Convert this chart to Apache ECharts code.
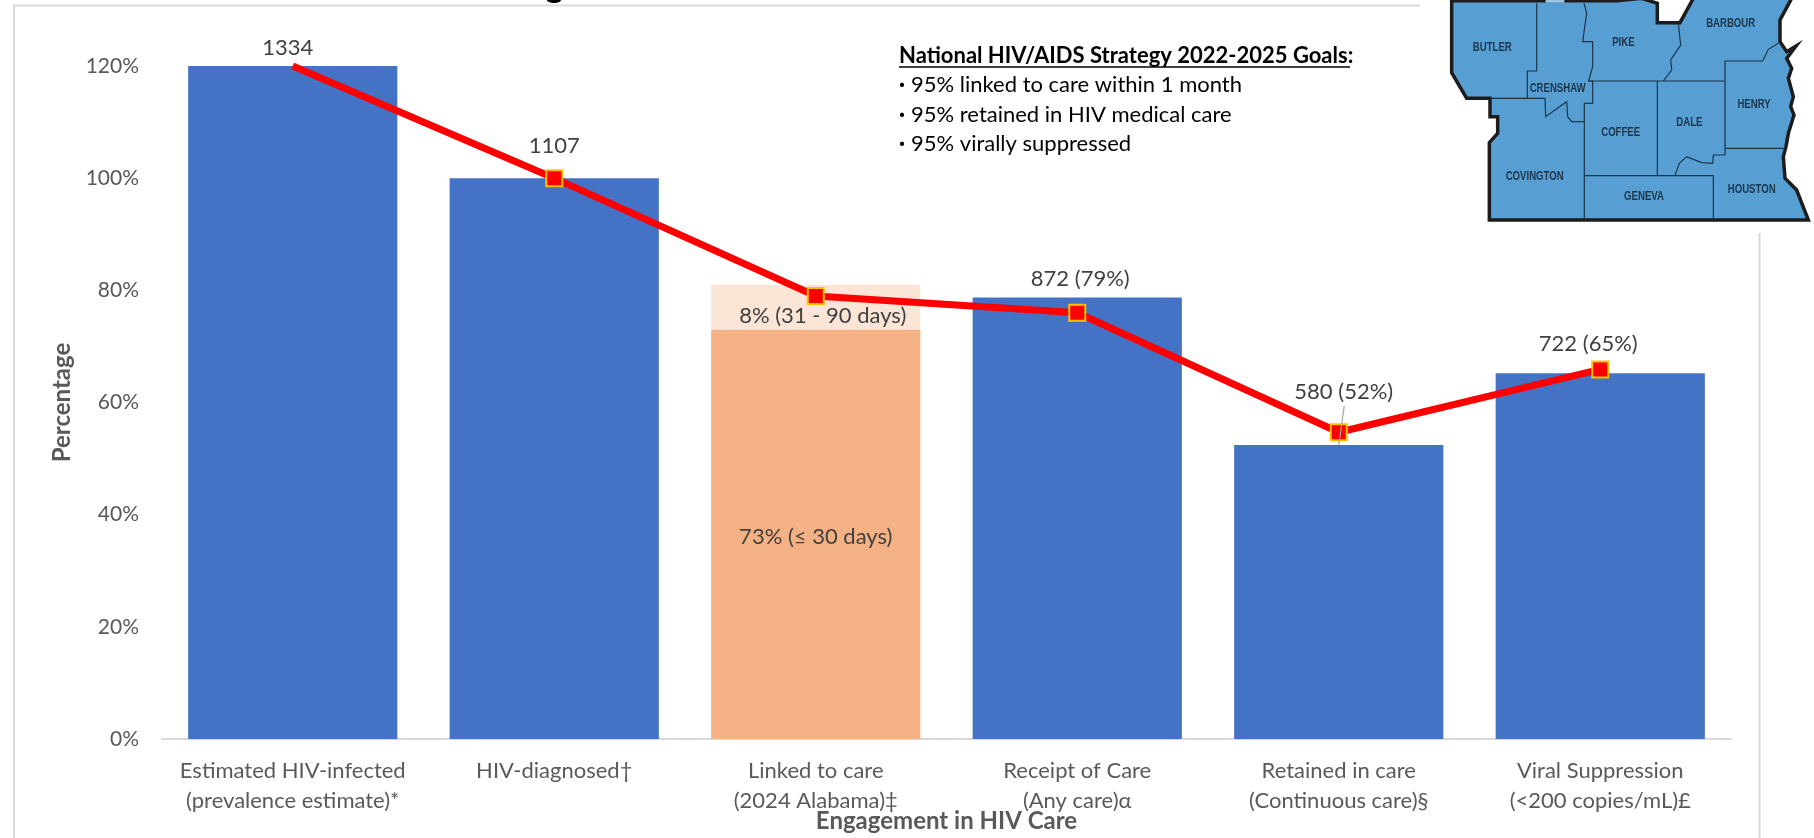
<!DOCTYPE html>
<html lang="en">
<head>
	<meta charset="UTF-8">
	<title>Engagement in HIV Care</title>
	<script src="https://cdn.jsdelivr.net/npm/echarts@6/dist/echarts.min.js" type="text/javascript"></script>
	<style>
		html,body{margin:0;padding:0;background:#fff;}
		#main{width:1814px;height:838px;}
	</style>
</head>
<body>
<div id="main"></div>
<script>
	var categories=["Estimated HIV-infected\n(prevalence estimate)*","HIV-diagnosed†","Linked to care\n(2024 Alabama)‡","Receipt of Care\n(Any care)α","Retained in care\n(Continuous care)§","Viral Suppression\n(<200 copies/mL)£"];
	var barValues=[120,100,73,78.7,52.4,65.2];
	var extraValues=[null,null,8,null,null,null];
	var lineValues=[120,100,79,76,54.7,65.9];
	var barLabels=["1334","1107","73% (≤ 30 days)","872 (79%)","580 (52%)","722 (65%)"];
	var extraLabel="8% (31 - 90 days)";
	var goalTitle="National HIV/AIDS Strategy 2022-2025 Goals:";
	var goalLines=["95% linked to care within 1 month","95% retained in HIV medical care","95% virally suppressed"];

	//县界，坐标是放大图里量的
	var mapOutline=[[155,2],[155,218],[200,295],[270,295],[270,350],[293,350],[293,400],[268,428],[268,660],[1225,660],[1190,570],[1155,535],[1150,470],[1158,440],[1165,400],[1182,345],[1172,320],[1180,290],[1165,235],[1175,205],[1160,175],[1188,138],[1160,155],[1140,125],[1140,60],[1175,-5],[880,-5],[840,68],[772,68],[772,10],[725,-5],[650,2],[495,2],[435,2]];
	var mapLines=[
		[[410,10],[410,213],[382,213],[382,295]],
		[[270,295],[435,295],[437,350],[500,305],[503,350],[515,365],[553,365]],
		[[552,10],[560,40],[548,125],[578,125],[578,200],[566,243],[578,243],[578,310],[553,310],[553,660]],
		[[566,243],[975,243]],
		[[835,70],[842,135],[812,180],[815,210],[790,243]],
		[[772,243],[772,527]],
		[[1135,130],[1105,148],[1088,183],[975,183],[975,465],[940,465],[938,490],[905,488],[860,470],[838,490],[825,527]],
		[[975,445],[1155,445]],
		[[553,527],[940,527],[940,660]]
	];
	var mapNames=[["BUTLER",277,142],["CRENSHAW",473,266],["PIKE",670,128],["BARBOUR",992,72],["HENRY",1062,313],["DALE",868,367],["COFFEE",662,397],["COVINGTON",404,530],["GENEVA",732,591],["HOUSTON",1055,570]];

	var fontName='Lato';
	var labelShift=[[-5,-7],[0,-21],null,[3,-8],[5,-42],[-12,-18]];

	function mapPt(p){
		return [1400+p[0]/3,p[1]/3];
	}
	function gText(x,y,text,size,weight,color,family){
		return {
			type:'text',x:x,y:y,z:5,
			style:{text:text,fontSize:size,fontWeight:weight||'normal',fontFamily:family||fontName,fill:color||'#000',textVerticalAlign:'middle'}
		};
	}
	function gLine(x1,y1,x2,y2,color,width){
		return {type:'line',z:4,shape:{x1:x1,y1:y1,x2:x2,y2:y2},style:{stroke:color,lineWidth:width}};
	}

	function buildBars(){
		return barValues.map(function(v,i){
			var item={value:v};
			if(i==2){
				item.itemStyle={color:'#F4B183'};
				item.label={show:true,position:'inside',offset:[0,3],formatter:barLabels[i]};
			}else{
				item.label={show:true,position:'top',distance:0,offset:labelShift[i],formatter:barLabels[i]};
			}
			return item;
		});
	}

	var myChart=echarts.init(document.getElementById('main'));
	var labelStyle={color:'#404040',fontSize:22,fontFamily:fontName};
	var option={
		animation:false,
		backgroundColor:'#fff',
		textStyle:{fontFamily:fontName},
		grid:{left:162,right:83,top:66,bottom:99,containLabel:false,outerBoundsMode:'none'},
		xAxis:{
			type:'category',
			data:categories,
			name:'Engagement in HIV Care',
			nameLocation:'middle',
			nameGap:70,
			nameMoveOverlap:false,
			nameTextStyle:{fontSize:24,fontWeight:'bold',color:'#595959',fontFamily:fontName},
			axisLine:{lineStyle:{color:'#D9D9D9',width:2}},
			axisTick:{show:false},
			axisLabel:{interval:0,fontSize:22,lineHeight:30,color:'#595959',margin:17,fontFamily:fontName}
		},
		yAxis:{
			type:'value',
			min:0,max:120,interval:20,
			name:'Percentage',
			nameLocation:'middle',
			nameGap:88,
			nameMoveOverlap:false,
			nameTextStyle:{fontSize:24,fontWeight:'bold',color:'#595959',fontFamily:fontName},
			splitLine:{show:false},
			axisLine:{show:false},
			axisTick:{show:false},
			axisLabel:{formatter:'{value}%',fontSize:21,color:'#595959',margin:23,fontFamily:fontName}
		},
		series:[
			{
				name:'Engagement',type:'bar',stack:'care',barCategoryGap:'20%',
				itemStyle:{color:'#4472C4'},
				label:labelStyle,
				data:buildBars()
			},
			{
				name:'Linked later',type:'bar',stack:'care',
				itemStyle:{color:'#FBE5D6'},
				label:{show:true,position:'inside',offset:[7,9],formatter:extraLabel,color:'#404040',fontSize:22,fontFamily:fontName},
				data:extraValues
			},
			{
				name:'Trend',type:'line',z:3,
				symbol:'rect',symbolSize:16,
				lineStyle:{color:'#FF0000',width:7},
				itemStyle:{color:'#FF0000',borderColor:'#FFC000',borderWidth:2},
				data:lineValues.map(function(v,i){
					return i==0?{value:v,symbol:'none'}:v;
				})
			}
		]
	};
	myChart.setOption(option);

	//外框、目标文字、地图
	var g=[];
	g.push(gLine(14,5.5,1420,5.5,'#D9D9D9',2));
	g.push(gLine(14,5,14,838,'#D9D9D9',2));
	g.push(gLine(1759.5,233,1759.5,838,'#D9D9D9',2));
	//顶上被裁掉的标题只剩一点
	g.push({type:'ellipse',z:4,shape:{cx:554,cy:0,rx:7,ry:3},style:{fill:'#000'}});

	g.push(gText(899,56,goalTitle,22,'bold','#000'));
	g.push(gLine(899,67,1350,67,'#000',1.5));
	goalLines.forEach(function(t,i){
		var y=85+i*29.5;
		g.push(gText(899,y,'·',22,'bold','#000'));
		g.push(gText(911,y,t,22,'normal','#000'));
	});

	g.push({type:'polygon',z:6,shape:{points:mapOutline.map(mapPt)},style:{fill:'#579ED3',stroke:'#1c1c1c',lineWidth:3.5,lineJoin:'miter'}});
	var gapA=mapPt([437,2]),gapB=mapPt([493,2]);
	g.push({type:'line',z:7,shape:{x1:gapA[0],y1:gapA[1],x2:gapB[0],y2:gapB[1]},style:{stroke:'#9CC4E4',lineWidth:4}});
	mapLines.forEach(function(l){
		g.push({type:'polyline',z:7,shape:{points:l.map(mapPt)},style:{fill:null,stroke:'#1d3549',lineWidth:1.2}});
	});
	mapNames.forEach(function(n){
		var p=mapPt([n[1],n[2]]);
		g.push({type:'text',x:p[0],y:p[1],scaleX:0.8,z:8,style:{text:n[0],fontSize:12,fontWeight:'bold',fontFamily:'Liberation Sans',fill:'#1d3549',align:'center',verticalAlign:'middle'}});
	});

	//580 (52%) 的引线，从柱顶往上
	var tip=myChart.convertToPixel({seriesIndex:0},[4,barValues[4]]);
	g.push({type:'line',z:10,shape:{x1:tip[0],y1:tip[1],x2:tip[0]+5.5,y2:tip[1]-39},style:{stroke:'#A6A6A6',lineWidth:1.2}});

	myChart.setOption({graphic:{elements:g}});
</script>
</body>
</html>
